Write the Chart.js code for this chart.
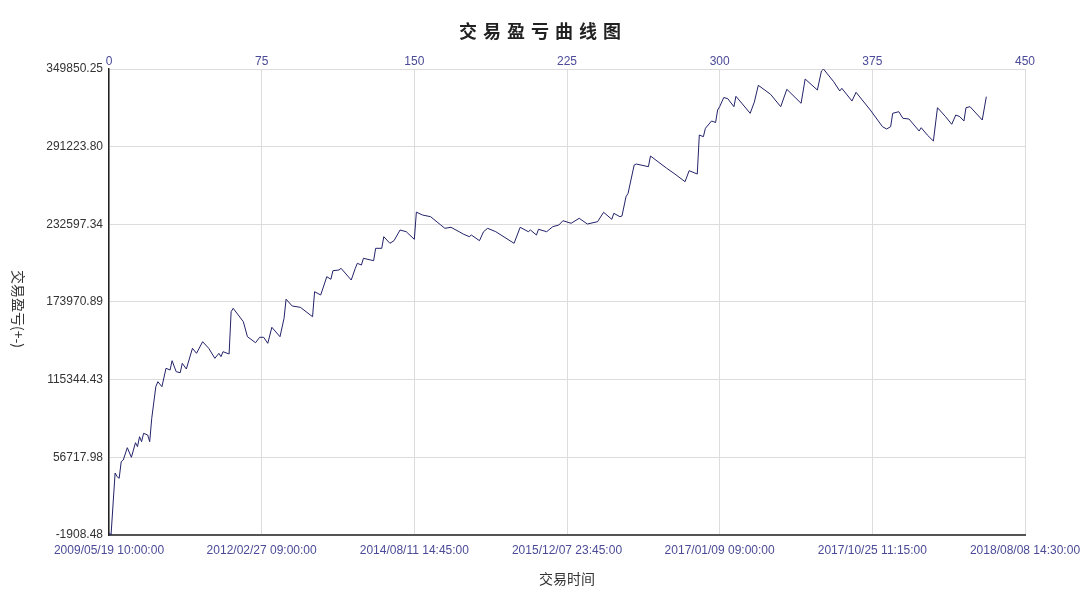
<!DOCTYPE html>
<html>
<head>
<meta charset="utf-8">
<script src="https://cdn.jsdelivr.net/npm/chart.js@4.4.1/dist/chart.umd.min.js"></script>
<style>
  html, body { margin: 0; padding: 0; background: #fff; }
  #wrap { width: 1080px; height: 590px; position: relative; }
</style>
</head>
<body>
<div id="wrap"><canvas id="grafica" width="1080" height="590"></canvas></div>
<script>
// Datos: número de operación y equity acumulado
const tradeIdx = [
  0, 1, 3, 4, 5, 6, 7, 9, 11, 13, 14, 15, 16, 17, 19, 20, 21, 23, 24, 26,
  28, 30, 31, 33, 35, 36, 38, 41, 43, 46, 49, 52, 54, 55, 56, 59, 60, 61, 66, 68,
  72, 74, 76, 78, 80, 84, 86, 87, 90, 94, 100, 101, 104, 107, 109, 110, 113, 114, 119, 121,
  122, 124, 125, 130, 131, 134, 135, 138, 140, 143, 146, 150, 151, 154, 158, 163, 165, 168, 172, 174,
  177, 178, 182, 184, 186, 190, 199, 202, 206, 207, 210, 211, 215, 218, 221, 223, 227, 231, 235, 240,
  243, 247, 248, 251, 252, 254, 255, 258, 259, 265, 266, 274, 278, 283, 285, 289, 290, 292, 293, 296,
  298, 299, 300, 302, 304, 307, 308, 315, 317, 319, 325, 330, 333, 340, 342, 348, 350, 351, 356, 359,
  360, 365, 367, 374, 380, 382, 384, 385, 388, 390, 393, 398, 399, 402, 405, 407, 411, 414, 416, 418,
  420, 421, 423, 429, 431
];
const equity = [
  0, -1908.48, 44891, 42098, 40890, 53420, 54704, 63988, 56742, 67763, 64743, 72292, 68518, 74859, 73575, 68518, 86183, 110034, 113809, 110034,
  123924, 122640, 129660, 121357, 120602, 127698, 123395, 139020, 135246, 144002, 139020, 131472, 135246, 132680, 136454, 134718, 166648, 169214, 159100, 147777,
  143248, 147324, 147324, 142795, 154873, 147777, 161667, 176084, 170951, 169970, 162874, 181745, 179254, 193068, 191106, 197597, 198125, 199409, 190577, 199409,
  203183, 201899, 206957, 205146, 214506, 214506, 223262, 218280, 220242, 228319, 227036, 221300, 241800, 239642, 238359, 232093, 229602, 230357, 227036, 225300,
  223262, 224545, 220242, 227036, 229602, 227036, 218280, 230357, 227036, 228319, 224545, 228847, 227036, 230810, 232093, 235340, 233377, 237151, 232848, 234585,
  241680, 236396, 240925, 238359, 238887, 253456, 256022, 277384, 278139, 276101, 284178, 274894, 270591, 264779, 273082, 270591, 300030, 298747, 305087, 310598,
  309466, 318901, 321392, 328337, 327431, 321392, 329243, 316410, 324789, 337546, 330752, 321392, 334527, 323959, 342301, 333998, 348340, 349850.25, 340263, 333243,
  335281, 325695, 332262, 318901, 306295, 304559, 306295, 316410, 317618, 312636, 312107, 303049, 305540, 300030, 295501, 320637, 313844, 308107, 315127, 313844,
  310598, 320637, 321392, 311353, 328941
];

// Ejes
const yTicks = [-1908.48, 56717.98, 115344.43, 173970.89, 232597.34, 291223.80, 349850.25];
const topTicks = [0, 75, 150, 225, 300, 375, 450];
const dateLabels = [
  "2009/05/19 10:00:00", "2012/02/27 09:00:00", "2014/08/11 14:45:00",
  "2015/12/07 23:45:00", "2017/01/09 09:00:00", "2017/10/25 11:15:00",
  "2018/08/08 14:30:00"
];

const chartTitle = "交易盈亏曲线图";
const yTitle = "交易盈亏(+-)";
const xTitle = "交易时间";

const colorLinea = "#22226a";
const colorTick = "#4a4a98";
const colorGrid = "#dcdcdc";
const fuente = "'Liberation Sans', Arial, sans-serif";

// Título y título del eje Y (girado en sentido horario)
const textosExtra = {
  id: "textosExtra",
  afterDraw(chart) {
    const ctx = chart.ctx;
    ctx.save();
    ctx.fillStyle = "#222";
    ctx.font = "bold 18px 'Noto Sans CJK SC', sans-serif";
    ctx.textAlign = "center";
    ctx.textBaseline = "middle";
    try { ctx.letterSpacing = "6px"; } catch (e) {}
    ctx.fillText(chartTitle, 543, 31);
    try { ctx.letterSpacing = "0px"; } catch (e) {}
    ctx.restore();

    ctx.save();
    ctx.fillStyle = "#333";
    ctx.font = "14px 'Noto Sans CJK SC', sans-serif";
    ctx.textAlign = "center";
    ctx.textBaseline = "middle";
    ctx.translate(18, 309);
    ctx.rotate(Math.PI / 2);
    ctx.fillText(yTitle, 0, 0);
    ctx.restore();
  }
};

const puntos = tradeIdx.map((t, i) => ({ x: t, y: equity[i] }));

new Chart(document.getElementById("grafica"), {
  type: "line",
  data: {
    datasets: [{
      data: puntos,
      borderColor: colorLinea,
      borderWidth: 1,
      pointRadius: 0,
      tension: 0,
      fill: false,
      xAxisID: "x",
      yAxisID: "y"
    }]
  },
  options: {
    responsive: false,
    animation: false,
    devicePixelRatio: 1,
    layout: { padding: { top: 45, right: 55, left: 0, bottom: 0 } },
    plugins: {
      legend: { display: false },
      tooltip: { enabled: false },
      title: { display: false }
    },
    scales: {
      x: {
        type: "linear",
        position: "bottom",
        min: 0,
        max: 450,
        afterBuildTicks: (scale) => { scale.ticks = topTicks.map(v => ({ value: v })); },
        afterFit: (scale) => { scale.height = 55; scale.paddingLeft = 0; scale.paddingRight = 0; },
        ticks: {
          color: colorTick,
          font: { size: 12, family: fuente },
          padding: 8,
          maxRotation: 0,
          autoSkip: false,
          callback: (v) => dateLabels[topTicks.indexOf(v)]
        },
        grid: { color: colorGrid, drawTicks: false },
        border: { color: "#555", width: 2 },
        title: {
          display: true,
          text: xTitle,
          color: "#333",
          font: { size: 14, family: "'Noto Sans CJK SC', sans-serif" },
          padding: { top: 0, bottom: 3 }
        }
      },
      x2: {
        type: "linear",
        position: "top",
        min: 0,
        max: 450,
        afterBuildTicks: (scale) => { scale.ticks = topTicks.map(v => ({ value: v })); },
        afterFit: (scale) => { scale.height = 24; scale.paddingLeft = 0; scale.paddingRight = 0; },
        ticks: {
          color: colorTick,
          font: { size: 12, family: fuente },
          padding: 0,
          maxRotation: 0,
          autoSkip: false
        },
        grid: { display: false, drawTicks: false },
        border: { display: false }
      },
      y: {
        type: "linear",
        position: "left",
        min: yTicks[0],
        max: yTicks[yTicks.length - 1],
        afterBuildTicks: (scale) => { scale.ticks = yTicks.map(v => ({ value: v })); },
        afterFit: (scale) => { scale.width = 109; },
        ticks: {
          color: "#333",
          font: { size: 12, family: fuente },
          padding: 6,
          autoSkip: false,
          callback: (v) => v.toFixed(2)
        },
        grid: { color: colorGrid, drawTicks: false },
        border: { color: "#222", width: 1.5 }
      }
    }
  },
  plugins: [textosExtra]
});
</script>
</body>
</html>
